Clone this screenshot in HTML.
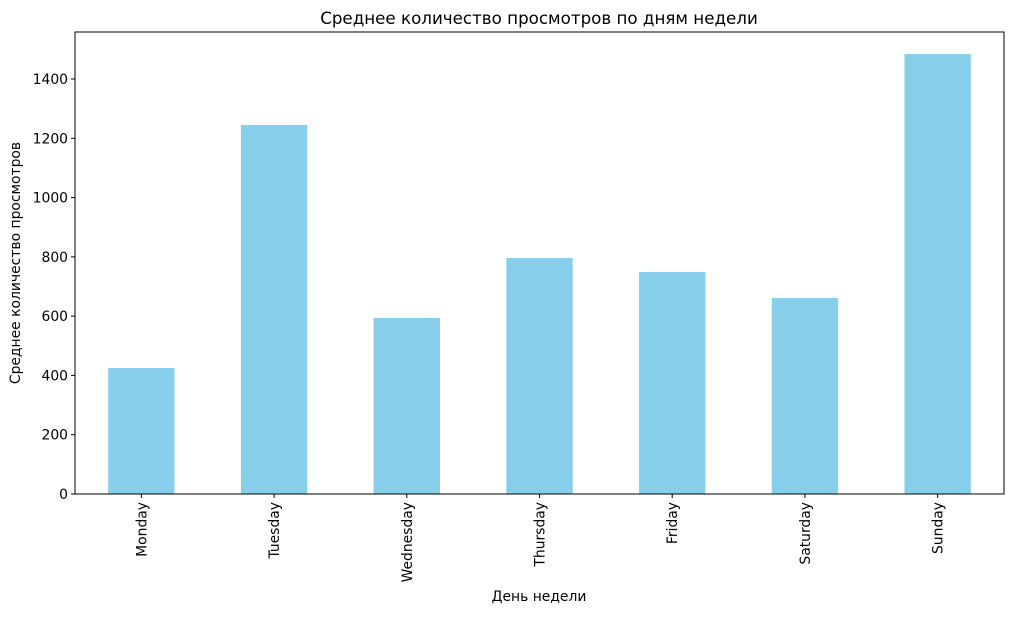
<!DOCTYPE html>
<html><head><meta charset="utf-8"><style>
body{margin:0;background:#fff;}
svg text{font-family:"DejaVu Sans","Liberation Sans",sans-serif;fill:#000;}
</style></head><body>
<svg id="chart" width="1014" height="614">
<text x="539" y="24" font-size="16.7" text-anchor="middle">Среднее количество просмотров по дням недели</text>
<text x="539" y="601" font-size="13.9" text-anchor="middle">День недели</text>
<text transform="translate(20,263) rotate(-90)" font-size="13.9" text-anchor="middle">Среднее количество просмотров</text>
<g id="bars"></g><g id="yticks"></g><g id="xticks"></g>
<rect x="75" y="32" width="929" height="462" fill="none" stroke="#000" stroke-width="1"/>
</svg>
<script>
const categories=["Monday","Tuesday","Wednesday","Thursday","Friday","Saturday","Sunday"];
const values=[425,1245,594,796,749,661,1484];
const yTicks=[0,200,400,600,800,1000,1200,1400];
const L=75,R=1004,T=32,B=494,YMAX=1558.5;
const ns="http://www.w3.org/2000/svg";
const y=v=>B-(v/YMAX)*(B-T);
const step=(R-L)/categories.length;
const x=i=>L+step*(i+0.5);
const bars=document.getElementById('bars'),yt=document.getElementById('yticks'),xt=document.getElementById('xticks');
values.forEach((v,i)=>{
const r=document.createElementNS(ns,'rect');
r.setAttribute('x',x(i)-step*0.25);r.setAttribute('width',step*0.5);
r.setAttribute('y',y(v));r.setAttribute('height',B-y(v));r.setAttribute('fill','#87ceeb');


bars.appendChild(r);
});
yTicks.forEach(t=>{
const l=document.createElementNS(ns,'line');
l.setAttribute('x1',L-4);l.setAttribute('x2',L);l.setAttribute('y1',y(t));l.setAttribute('y2',y(t));l.setAttribute('stroke','#000');


yt.appendChild(l);
const tx=document.createElementNS(ns,'text');
tx.setAttribute('x',L-7);tx.setAttribute('y',y(t)+5);tx.setAttribute('font-size','13.9');tx.setAttribute('text-anchor','end');
tx.textContent=t;


yt.appendChild(tx);
});
categories.forEach((c,i)=>{
const l=document.createElementNS(ns,'line');
l.setAttribute('x1',x(i));l.setAttribute('x2',x(i));l.setAttribute('y1',B);l.setAttribute('y2',B+4);l.setAttribute('stroke','#000');


xt.appendChild(l);
const tx=document.createElementNS(ns,'text');
tx.setAttribute('transform','translate('+(x(i)+5)+','+(B+8)+') rotate(-90)');
tx.setAttribute('font-size','13.9');tx.setAttribute('text-anchor','end');
tx.textContent=c;


xt.appendChild(tx);
});
</script>
</body></html>
